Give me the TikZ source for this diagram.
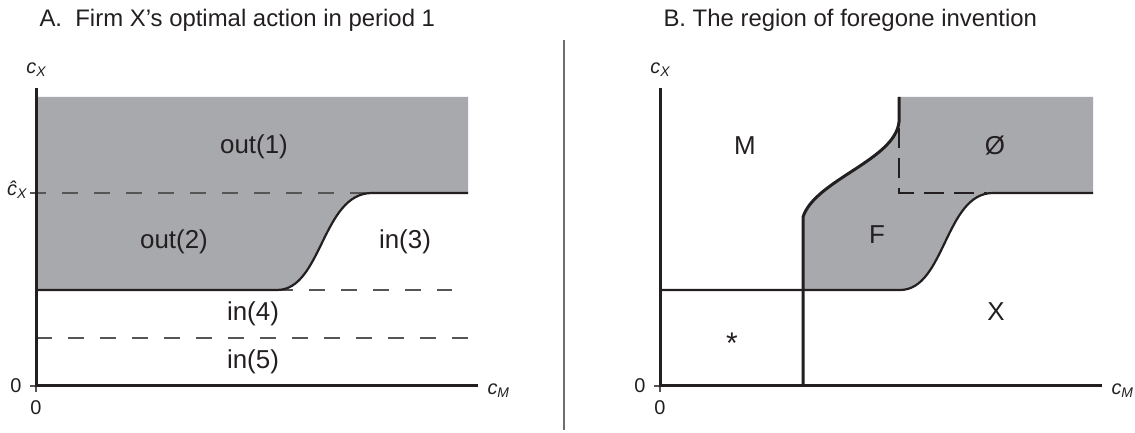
\documentclass[tikz,border=0pt]{standalone}
\usepackage{fontspec}
\setmainfont{Liberation Sans}
\usetikzlibrary{positioning}

\definecolor{regiongray}{RGB}{168,169,173}
\definecolor{guidegray}{RGB}{85,85,85}
\definecolor{inkblack}{RGB}{35,31,32}
\definecolor{rulegray}{RGB}{110,110,110}

\newcommand{\lowsub}[1]{\raisebox{-0.3ex}{\fontsize{14}{14}\selectfont\itshape #1}}

\begin{document}
\begin{tikzpicture}[x=1bp, y=-1bp,
  axis/.style={line width=3bp, inkblack},
  bound/.style={line width=2.2bp, inkblack},
  guide/.style={line width=1.8bp, guidegray, dash pattern=on 16bp off 16bp},
  boundguide/.style={line width=2.6bp, inkblack, dash pattern=on 20bp off 10bp},
  tickmark/.style={line width=1.2bp, guidegray},
  region/.style={font=\fontsize{26}{30}\selectfont, text=inkblack},
  paneltitle/.style={font=\fontsize{24}{28}\selectfont, text=inkblack, anchor=base west},
  axislabel/.style={font=\fontsize{20}{24}\selectfont\itshape, text=inkblack},
  zero/.style={font=\fontsize{20}{24}\selectfont, text=inkblack}
]
  \useasboundingbox (0,0) rectangle (1135,433);

  % panel A
  \node[paneltitle] (titleA) at (36,27) {A.\ \ Firm X's optimal action in period 1};
  \fill[regiongray] (37,97) -- (468,97) -- (468,193) -- (372,193)
    .. controls (322,193) and (322,290) .. (277,290) -- (37,290) -- cycle;
  \coordinate (A-o) at (36,386);
  \coordinate (A-top) at (36,88);
  \coordinate (A-end) at (478,386);
  \draw[guide] (30,193) -- (372,193);
  \draw[guide] (277,290) -- (452,290);
  \draw[guide] (36,338) -- (468,338);
  \draw[bound] (36,290) -- (277,290) .. controls (322,290) and (322,193) .. (372,193) -- (468,193);
  \draw[tickmark] (A-o) -- ++(-6,0) (A-o) -- ++(0,6);
  \draw[axis] (A-top) -- (A-o) -- (A-end);
  \node[axislabel] (A-cx) at (36,70) {c\lowsub{X}};
  \node[axislabel, anchor=east] (A-chat) at (30,190) {\^{c}\lowsub{X}};
  \node[axislabel, anchor=west] (A-cm) at (484,391) {c\lowsub{M}};
  \node[zero] (A-zl) at (16,386) {0};
  \node[zero] (A-zb) at (36,408) {0};
  \node[region] (out1) at (254,147) {out(1)};
  \node[region] (out2) at (174,242) {out(2)};
  \node[region] (in3) at (405,242) {in(3)};
  \node[region] (in4) at (253,314) {in(4)};
  \node[region] (in5) at (253,362) {in(5)};

  % divider
  \draw[rulegray, line width=1.5bp] (564,40) -- (564,430);

  % panel B
  \node[paneltitle] (titleB) at (660,27) {B. The region of foregone invention};
  \fill[regiongray] (803,290) -- (803,217) .. controls (815,180) and (895,160) .. (899,122)
    -- (899,97) -- (1093,97) -- (1093,193) -- (993,193)
    .. controls (945,193) and (945,290) .. (900,290) -- cycle;
  \coordinate (B-o) at (660,386);
  \coordinate (B-top) at (660,88);
  \coordinate (B-end) at (1102,386);
  \draw[bound] (660,290) -- (900,290) .. controls (945,290) and (945,193) .. (993,193) -- (1093,193);
  \draw[bound, line width=3bp] (803,386) -- (803,217) .. controls (815,180) and (895,160) .. (899,122) -- (899,97);
  \draw[boundguide] (899,128) -- (899,193) -- (987,193);
  \draw[tickmark] (B-o) -- ++(-6,0) (B-o) -- ++(0,6);
  \draw[axis] (B-top) -- (B-o) -- (B-end);
  \node[axislabel] (B-cx) at (660,70) {c\lowsub{X}};
  \node[axislabel, anchor=west] (B-cm) at (1108,391) {c\lowsub{M}};
  \node[zero] (B-zl) at (640,386) {0};
  \node[zero] (B-zb) at (660,408) {0};
  \node[region] (regM) at (745,146) {M};
  \node[region] (regO) at (995,146) {Ø};
  \node[region] (regF) at (877,235) {F};
  \node[region] (regX) at (996,312) {X};
  \node[region, font=\fontsize{30}{34}\selectfont] (regS) at (732,343) {*};
\end{tikzpicture}
\end{document}
